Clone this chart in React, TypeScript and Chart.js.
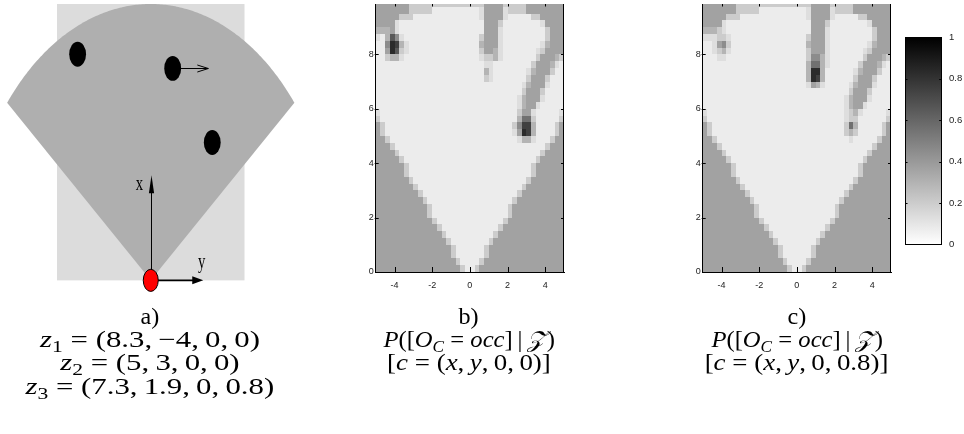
import React, { useEffect, useRef } from "react";
import { Chart, registerables } from "chart.js";

Chart.register(...registerables);
Chart.defaults.font.family = "'Liberation Sans', Arial, sans-serif";

// ---------------- data ----------------
const X_TICKS = [-4, -2, 0, 2, 4];
const Y_TICKS = [0, 2, 4, 6, 8];
const CBAR_TICKS = [0, 0.2, 0.4, 0.6, 0.8, 1];
const CBAR_LABELS = ["0", "0.2", "0.4", "0.6", "0.8", "1"];

const GRID_X_MIN = -5;
const GRID_X_MAX = 5;
const GRID_Y_MIN = 0;
const GRID_Y_MAX = 9.85;
const CELL_SIZE = 0.25;

// occupancy probability for each grey level digit used in the maps
const LEVEL_VALUES = [0.075, 0.13, 0.2, 0.295, 0.365, 0.45, 0.56, 0.655, 0.75, 0.83];

// panel b : rows from top (y = 9.75) to bottom (y = 0), 40 columns from x = -5 to 5
const MAP_B = [
  "4444444222 2222222222 2224444222 2244444444",
  "4444444222 2200000000 0014444122 2244444444",
  "4444422200 0000000000 0014444100 0002244444",
  "4444100000 0000000000 0004442000 0000014444",
  "3334100000 0000000000 0004441000 0000002444",
  "1037510000 0000000000 0024441000 0000002444",
  "0059831000 0000000000 0034441000 0000013444",
  "0049721000 0000000000 0024431000 0000124444",
  "0023310000 0000000000 0012231000 0000244432",
  "0000000000 0000000000 0001100000 0002444310",
  "0000000000 0000000000 0003100000 0013444200",
  "0000000000 0000000000 0002100000 0024442000",
  "0000000000 0000000000 0000000000 0134441000",
  "0000000000 0000000000 0000000000 0244420000",
  "0000000000 0000000000 0000000000 1344410000",
  "0000000000 0000000000 0000000000 1344100000",
  "1000000000 0000000000 0000000000 2441000001",
  "2000000000 0000000000 0000000000 3662000002",
  "4200000000 0000000000 0000000002 5883000024",
  "4200000000 0000000000 0000000001 4983000024",
  "4420000000 0000000000 0000000000 1331000244",
  "4442000000 0000000000 0000000000 0000002444",
  "4444200000 0000000000 0000000000 0000024444",
  "4444420000 0000000000 0000000000 0000244444",
  "4444442000 0000000000 0000000000 0002444444",
  "4444442000 0000000000 0000000000 0002444444",
  "4444444200 0000000000 0000000000 0024444444",
  "4444444420 0000000000 0000000000 0244444444",
  "4444444442 0000000000 0000000000 2444444444",
  "4444444444 2000000000 0000000002 4444444444",
  "4444444444 4200000000 0000000024 4444444444",
  "4444444444 4200000000 0000000024 4444444444",
  "4444444444 4420000000 0000000244 4444444444",
  "4444444444 4442000000 0000002444 4444444444",
  "4444444444 4444200000 0000024444 4444444444",
  "4444444444 4444420000 0000244444 4444444444",
  "4444444444 4444442000 0002444444 4444444444",
  "4444444444 4444442000 0002444444 4444444444",
  "4444444444 4444444200 0024444444 4444444444",
  "4444444444 4444444420 0244444444 4444444444",
];

// panel c
const MAP_C = [
  "4444444222 2222222222 2224444222 2244444444",
  "4444444222 2200000000 0014444122 2244444444",
  "4444422200 0000000000 0014444100 0002244444",
  "4444100000 0000000000 0004442000 0000014444",
  "3332100000 0000000000 0004441000 0000002444",
  "1112210000 0000000000 0024441000 0000002444",
  "0014520000 0000000000 0034441000 0000013444",
  "0012310000 0000000000 0024441000 0000124444",
  "0001100000 0000000000 0025531000 0000244432",
  "0000000000 0000000000 0036631000 0002444310",
  "0000000000 0000000000 0039930000 0013444200",
  "0000000000 0000000000 0039830000 0024442000",
  "0000000000 0000000000 0014310000 0134441000",
  "0000000000 0000000000 0000000000 0244420000",
  "0000000000 0000000000 0000000000 1344410000",
  "0000000000 0000000000 0000000000 1344100000",
  "1000000000 0000000000 0000000000 1231000001",
  "2000000000 0000000000 0000000000 1220000002",
  "4200000000 0000000000 0000000000 2630000024",
  "4200000000 0000000000 0000000000 2320000024",
  "4420000000 0000000000 0000000000 0100000244",
  "4442000000 0000000000 0000000000 0000002444",
  "4444200000 0000000000 0000000000 0000024444",
  "4444420000 0000000000 0000000000 0000244444",
  "4444442000 0000000000 0000000000 0002444444",
  "4444442000 0000000000 0000000000 0002444444",
  "4444444200 0000000000 0000000000 0024444444",
  "4444444420 0000000000 0000000000 0244444444",
  "4444444442 0000000000 0000000000 2444444444",
  "4444444444 2000000000 0000000002 4444444444",
  "4444444444 4200000000 0000000024 4444444444",
  "4444444444 4200000000 0000000024 4444444444",
  "4444444444 4420000000 0000000244 4444444444",
  "4444444444 4442000000 0000002444 4444444444",
  "4444444444 4444200000 0000024444 4444444444",
  "4444444444 4444420000 0000244444 4444444444",
  "4444444444 4444442000 0002444444 4444444444",
  "4444444444 4444442000 0002444444 4444444444",
  "4444444444 4444444200 0024444444 4444444444",
  "4444444444 4444444420 0244444444 4444444444",
];

// panel a : scene (horizontal = lateral y, vertical = forward x)
const WORLD_X = [-5, 5];
const WORLD_Y = [0, 10];
const FOV_RANGE = 10;
const FOV_HALF_ANGLE = 50;
const OBSTACLE_X = [-3.9, 1.17, 3.28];
const OBSTACLE_Y = [8.18, 7.67, 4.99];
const OBSTACLE_R = 0.45;
const VELOCITY_FROM = [1.6, 7.67];
const VELOCITY_TO = [3.07, 7.67];
const AXIS_X_TIP = [0, 3.8];
const AXIS_Y_TIP = [2.8, 0];
const SENSOR_R = [0.4, 0.4];

// ---------------- helpers ----------------
const grey = (v: number) => {
  const g = Math.round(255 * (1 - v));
  return `rgb(${g},${g},${g})`;
};

const parseMap = (rows: string[]) =>
  rows.map((r) => r.replace(/\s/g, "").split("").map((c) => LEVEL_VALUES[Number(c)]));

const tickFont = { family: "'Liberation Sans', Arial, sans-serif", size: 9 };

function line(ctx: CanvasRenderingContext2D, x0: number, y0: number, x1: number, y1: number) {
  ctx.beginPath();
  ctx.moveTo(x0, y0);
  ctx.lineTo(x1, y1);
  ctx.stroke();
}

function makeHeatmap(canvas: HTMLCanvasElement, rows: string[]) {
  const grid = parseMap(rows);
  const nRows = grid.length;
  const cells = {
    id: "cells",
    beforeDatasetsDraw(chart: any) {
      const { ctx, chartArea: a, scales } = chart;
      const x = scales.x, y = scales.y;
      ctx.save();
      ctx.beginPath();
      ctx.rect(a.left, a.top, a.right - a.left, a.bottom - a.top);
      ctx.clip();
      grid.forEach((row, k) => {
        const i = nRows - 1 - k;
        const y0 = GRID_Y_MIN + i * CELL_SIZE;
        const py0 = Math.round(y.getPixelForValue(y0));
        const py1 = Math.round(y.getPixelForValue(y0 + CELL_SIZE));
        row.forEach((v, j) => {
          const x0 = GRID_X_MIN + j * CELL_SIZE;
          const px0 = Math.round(x.getPixelForValue(x0));
          const px1 = Math.round(x.getPixelForValue(x0 + CELL_SIZE));
          ctx.fillStyle = grey(v);
          ctx.fillRect(px0, py1, px1 - px0, py0 - py1);
        });
      });
      ctx.restore();
    },
    afterDraw(chart: any) {
      const { ctx, chartArea: a, scales } = chart;
      const x = scales.x, y = scales.y;
      ctx.save();
      ctx.strokeStyle = "#000";
      ctx.lineWidth = 1;
      const r = Math.round(a.right) - 0.5;
      line(ctx, r, a.top, r, a.bottom);
      X_TICKS.forEach((v) => {
        const px = Math.round(x.getPixelForValue(v)) + 0.5;
        line(ctx, px, a.bottom, px, a.bottom - 5);
        line(ctx, px, a.top, px, a.top + 2.5);
      });
      Y_TICKS.forEach((v) => {
        if (v === 0) return;
        const py = Math.round(y.getPixelForValue(v)) + 0.5;
        line(ctx, a.left - 1, py, a.left + 3, py);
        line(ctx, a.right, py, a.right - 3, py);
      });
      ctx.restore();
    },
  };
  return new Chart(canvas, {
    type: "scatter",
    data: { datasets: [] },
    options: {
      animation: false,
      responsive: false,
      events: [],
      layout: { padding: { left: 0, top: 4, right: 16, bottom: 8 } },
      plugins: { legend: { display: false }, tooltip: { enabled: false } },
      scales: {
        x: {
          type: "linear",
          position: "bottom",
          min: GRID_X_MIN,
          max: GRID_X_MAX,
          z: 1,
          grid: { display: false, drawTicks: false },
          border: { display: true, color: "#000", width: 1 },
          ticks: { font: tickFont, color: "#222", padding: 8, maxRotation: 0, callback: (v: any) => String(v) },
          afterBuildTicks: (s: any) => {
            s.ticks = X_TICKS.map((v) => ({ value: v }));
          },
          afterFit: (s: any) => {
            s.height = 20;
            s.paddingLeft = 0;
            s.paddingRight = 0;
          },
        },
        y: {
          type: "linear",
          position: "left",
          min: GRID_Y_MIN,
          max: GRID_Y_MAX,
          z: 1,
          grid: { display: false, drawTicks: false },
          border: { display: true, color: "#000", width: 1 },
          ticks: { font: tickFont, color: "#222", padding: 2, callback: (v: any) => String(v) },
          afterBuildTicks: (s: any) => {
            s.ticks = Y_TICKS.map((v) => ({ value: v }));
          },
          afterFit: (s: any) => {
            s.width = 25.7;
            s.paddingTop = 0;
            s.paddingBottom = 0;
          },
        },
      },
    },
    plugins: [cells],
  } as any);
}

function makeColorbar(canvas: HTMLCanvasElement) {
  const bar = {
    id: "bar",
    beforeDatasetsDraw(chart: any) {
      const { ctx, chartArea: a, scales } = chart;
      const y = scales.y;
      const y0 = y.getPixelForValue(0);
      const y1 = y.getPixelForValue(1);
      const g = ctx.createLinearGradient(0, y0, 0, y1);
      g.addColorStop(0, grey(0));
      g.addColorStop(1, grey(1));
      ctx.save();
      ctx.fillStyle = g;
      ctx.fillRect(a.left, y1, a.right - a.left, y0 - y1);
      ctx.strokeStyle = "#000";
      ctx.lineWidth = 1;
      ctx.strokeRect(Math.round(a.left) + 0.5, Math.round(y1) + 0.5, Math.round(a.right - a.left) - 1, Math.round(y0 - y1));
      CBAR_TICKS.forEach((v) => {
        if (v === 0 || v === 1) return;
        const py = Math.round(y.getPixelForValue(v)) + 0.5;
        line(ctx, a.left, py, a.left + 2.5, py);
        line(ctx, a.right, py, a.right - 2.5, py);
      });
      ctx.restore();
    },
  };
  return new Chart(canvas, {
    type: "scatter",
    data: { datasets: [] },
    options: {
      animation: false,
      responsive: false,
      events: [],
      layout: { padding: { left: 10, top: 10.3, right: 0, bottom: 12.7 } },
      plugins: { legend: { display: false }, tooltip: { enabled: false } },
      scales: {
        x: { type: "linear", display: false, min: 0, max: 1 },
        y: {
          type: "linear",
          position: "right",
          min: 0,
          max: 1,
          z: 1,
          grid: { display: false, drawTicks: false },
          border: { display: false },
          ticks: {
            font: { family: "'Liberation Sans', Arial, sans-serif", size: 9.5 },
            color: "#222",
            padding: 7.3,
            callback: (v: any) => CBAR_LABELS[CBAR_TICKS.indexOf(v)] ?? String(v),
          },
          afterBuildTicks: (s: any) => {
            s.ticks = CBAR_TICKS.map((v) => ({ value: v }));
          },
          afterFit: (s: any) => {
            s.width = 22.3;
            s.paddingTop = 0;
            s.paddingBottom = 0;
          },
        },
      },
    },
    plugins: [bar],
  } as any);
}

function makeScene(canvas: HTMLCanvasElement) {
  const scene = {
    id: "scene",
    afterDatasetsDraw(chart: any) {
      const { ctx, scales } = chart;
      const X = (v: number) => scales.x.getPixelForValue(v);
      const Y = (v: number) => scales.y.getPixelForValue(v);
      ctx.save();
      // world area
      ctx.fillStyle = "#dcdcdc";
      ctx.fillRect(X(WORLD_X[0]), Y(WORLD_Y[1]), X(WORLD_X[1]) - X(WORLD_X[0]), Y(WORLD_Y[0]) - Y(WORLD_Y[1]));
      // field of view
      ctx.fillStyle = "#afafaf";
      ctx.beginPath();
      ctx.moveTo(X(0), Y(0));
      for (let d = -FOV_HALF_ANGLE; d <= FOV_HALF_ANGLE + 1e-9; d += 0.5) {
        const r = (d * Math.PI) / 180;
        ctx.lineTo(X(FOV_RANGE * Math.sin(r)), Y(FOV_RANGE * Math.cos(r)));
      }
      ctx.closePath();
      ctx.fill();
      // obstacles
      ctx.fillStyle = "#000";
      OBSTACLE_X.forEach((ox, k) => {
        const oy = OBSTACLE_Y[k];
        ctx.beginPath();
        ctx.ellipse(X(ox), Y(oy), X(ox + OBSTACLE_R) - X(ox), Y(oy) - Y(oy + OBSTACLE_R), 0, 0, Math.PI * 2);
        ctx.fill();
      });
      // velocity arrow (open head)
      ctx.strokeStyle = "#000";
      ctx.lineWidth = 1;
      const vx0 = X(VELOCITY_FROM[0]), vy = Math.round(Y(VELOCITY_FROM[1])) + 0.5, vx1 = X(VELOCITY_TO[0]);
      line(ctx, vx0, vy, vx1, vy);
      ctx.beginPath();
      ctx.moveTo(vx1 - 11, vy - 3.5);
      ctx.lineTo(vx1, vy);
      ctx.lineTo(vx1 - 11, vy + 3.5);
      ctx.stroke();
      // sensor axes
      const ox = Math.round(X(0)) + 0.5, oy = Y(0);
      const xTip = Y(AXIS_X_TIP[1]);
      line(ctx, ox, oy, ox, xTip + 10);
      ctx.fillStyle = "#000";
      ctx.beginPath();
      ctx.moveTo(ox, xTip);
      ctx.lineTo(ox - 2.6, xTip + 18);
      ctx.lineTo(ox + 2.6, xTip + 18);
      ctx.closePath();
      ctx.fill();
      const yTip = X(AXIS_Y_TIP[0]);
      ctx.lineWidth = 1.6;
      line(ctx, ox, oy, yTip - 6, oy);
      ctx.beginPath();
      ctx.moveTo(yTip, oy);
      ctx.lineTo(yTip - 11, oy - 4);
      ctx.lineTo(yTip - 11, oy + 4);
      ctx.closePath();
      ctx.fill();
      // sensor
      ctx.fillStyle = "#ff0000";
      ctx.lineWidth = 1;
      ctx.beginPath();
      ctx.ellipse(X(0), Y(0), X(SENSOR_R[0]) - X(0), Y(0) - Y(SENSOR_R[1]), 0, 0, Math.PI * 2);
      ctx.fill();
      ctx.stroke();
      // axis letters
      ctx.fillStyle = "#000";
      ctx.font = "21px 'Liberation Serif', serif";
      ctx.textAlign = "center";
      ctx.textBaseline = "alphabetic";
      const letter = (t: string, px: number, py: number) => {
        ctx.save();
        ctx.translate(px, py);
        ctx.scale(0.7, 1);
        ctx.fillText(t, 0, 0);
        ctx.restore();
      };
      letter("x", X(-0.6), Y(3.28));
      letter("y", X(2.72), Y(0.45));
      ctx.restore();
    },
  };
  return new Chart(canvas, {
    type: "scatter",
    data: { datasets: [] },
    options: {
      animation: false,
      responsive: false,
      events: [],
      layout: { padding: 0 },
      plugins: { legend: { display: false }, tooltip: { enabled: false } },
      scales: {
        x: { type: "linear", display: false, min: -8.04, max: 7.96 },
        y: { type: "linear", display: false, min: -1, max: 10.145 },
      },
    },
    plugins: [scene],
  } as any);
}

// ---------------- captions ----------------
const MATH_FONT = "'Liberation Serif', 'Times New Roman', serif";

function Cap({ cx, cy, sx = 1, children }: { cx: number; cy: number; sx?: number; children: any }) {
  return (
    <div
      style={{
        position: "absolute",
        left: cx - 200,
        top: cy - 13,
        width: 400,
        height: 26,
        lineHeight: "26px",
        textAlign: "center",
        fontFamily: MATH_FONT,
        fontSize: 23,
        whiteSpace: "nowrap",
        color: "#000",
      }}
    >
      <span style={{ display: "inline-block", transform: `scaleX(${sx})`, transformOrigin: "50% 50%" }}>{children}</span>
    </div>
  );
}

const Sub = ({ children }: { children: any }) => (
  <span style={{ fontSize: "0.7em", position: "relative", top: "0.3em" }}>{children}</span>
);

const TS = "\u2009";

export default function App() {
  const aRef = useRef<HTMLCanvasElement>(null);
  const bRef = useRef<HTMLCanvasElement>(null);
  const cRef = useRef<HTMLCanvasElement>(null);
  const dRef = useRef<HTMLCanvasElement>(null);

  useEffect(() => {
    const charts = [
      makeScene(aRef.current!),
      makeHeatmap(bRef.current!, MAP_B),
      makeHeatmap(cRef.current!, MAP_C),
      makeColorbar(dRef.current!),
    ];
    return () => charts.forEach((c) => c.destroy());
  }, []);

  const abs = (left: number, top: number): React.CSSProperties => ({ position: "absolute", left, top });

  return (
    <div style={{ position: "absolute", left: 0, top: 0, width: 964, height: 434, background: "#fff", overflow: "hidden" }}>
      <canvas ref={aRef} width={300} height={308} style={abs(0, 0)} />
      <canvas ref={bRef} width={230} height={300} style={abs(350, 0)} />
      <canvas ref={cRef} width={230} height={300} style={abs(676.6, 0)} />
      <canvas ref={dRef} width={69} height={230} style={abs(895, 27)} />

      <Cap cx={150} cy={317} sx={1.05}>a)</Cap>
      <Cap cx={150} cy={340} sx={1.34}>
        <i>z</i><Sub>1</Sub> = (8.3,{TS}−4,{TS}0,{TS}0)
      </Cap>
      <Cap cx={150} cy={363} sx={1.34}>
        <i>z</i><Sub>2</Sub> = (5,{TS}3,{TS}0,{TS}0)
      </Cap>
      <Cap cx={150} cy={387} sx={1.34}>
        <i>z</i><Sub>3</Sub> = (7.3,{TS}1.9,{TS}0,{TS}0.8)
      </Cap>

      <Cap cx={469} cy={317} sx={1.05}>b)</Cap>
      <Cap cx={469} cy={340} sx={1.07}>
        <i>P</i>([<i>O</i><Sub><i>C</i></Sub> = <i>occ</i>]{TS}|{TS}<i>𝒵</i>)
      </Cap>
      <Cap cx={469} cy={363} sx={1.17}>
        [<i>c</i> = (<i>x</i>,{TS}<i>y</i>,{TS}0,{TS}0)]
      </Cap>

      <Cap cx={797} cy={317} sx={1.05}>c)</Cap>
      <Cap cx={797} cy={340} sx={1.07}>
        <i>P</i>([<i>O</i><Sub><i>C</i></Sub> = <i>occ</i>]{TS}|{TS}<i>𝒵</i>)
      </Cap>
      <Cap cx={797} cy={363} sx={1.17}>
        [<i>c</i> = (<i>x</i>,{TS}<i>y</i>,{TS}0,{TS}0.8)]
      </Cap>
    </div>
  );
}
